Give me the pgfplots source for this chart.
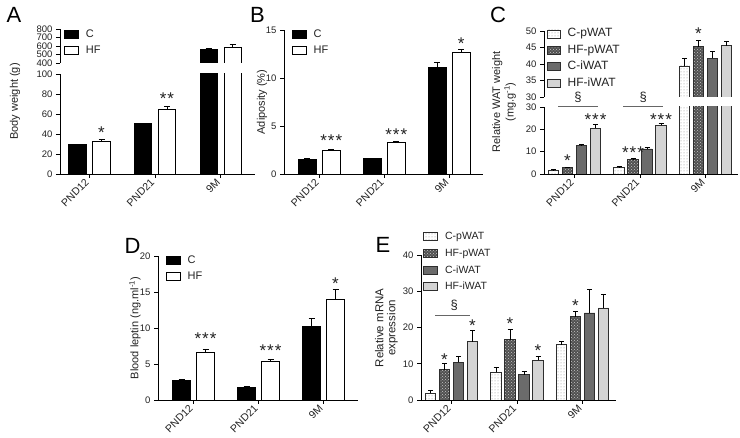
\documentclass[border=0pt]{standalone}
\usepackage{pgfplots}
\pgfplotsset{compat=1.18}
\usepackage{fontspec}
\setmainfont{Liberation Sans}
\usetikzlibrary{patterns}

\definecolor{txt}{HTML}{222222}
\definecolor{edgeg}{HTML}{2E2E2E}
\definecolor{hfp}{HTML}{505050}
\definecolor{ciw}{HTML}{6B6B6B}
\definecolor{hfiw}{HTML}{D4D4D4}

\newcommand{\tickfont}{\fontsize{9.5}{10}\selectfont}
\newcommand{\xtickfont}{\fontsize{10.5}{11}\selectfont}
\newcommand{\labfont}{\fontsize{11}{13.5}\selectfont}
\newcommand{\legfont}{\fontsize{11}{12}\selectfont}

\tikzset{
  st/.style={font=\fontsize{17}{17}\selectfont, text=txt, inner sep=0pt, anchor=base, yshift=-9.7pt},
  sg/.style={font=\fontsize{13}{13}\selectfont, text=txt, inner sep=0pt, anchor=base, yshift=-3.4pt},
  sgl/.style={line width=0.8pt, black!60},
}
\pgfplotsset{
  gp/.style={
    scale only axis, anchor=south west, clip mode=individual,
    axis line style={line width=0.9pt, black},
    every tick/.style={line width=0.9pt, black},
    tick align=outside, major tick length=4pt,
    scaled y ticks=false,
    /pgf/number format/assume math mode=true,
    ticklabel style={font=\tickfont, text=txt},
    legend cell align=left,
    legend style={draw=none, fill=none, anchor=north west, inner sep=0pt, outer sep=0pt,
      font=\legfont, text=txt, row sep=2pt, column sep=7pt,
      nodes={inner xsep=0pt, inner ysep=2pt, text height=8pt, text depth=2pt}},
    legend image code/.code={\draw[##1] (0pt,-4pt) rectangle (14pt,4pt);},
    error bars/y dir=plus, error bars/y explicit,
    error bars/error mark=|,
    error bars/error bar style={line width=1pt, black},
    error bars/error mark options={line width=1pt, black, mark size=3pt},
  },
  gplow/.style={gp, axis x line*=bottom, axis y line*=left,
    xticklabels={PND12,PND21,9M},
    xticklabel style={rotate=45, anchor=east, font=\xtickfont}},
  gpup/.style={gp, axis y line*=left, axis x line=none},
  bc/.style={ybar, bar shift=0pt, bar width=17.5pt, fill=black, draw=black, line width=0.9pt},
  bh/.style={ybar, bar shift=0pt, bar width=17.5pt, fill=white, draw=black, line width=0.9pt},
  qq/.style={ybar, bar shift=0pt, bar width=10.5pt, draw=edgeg, line width=0.8pt,
    error bars/error mark options={line width=1pt, black, mark size=2.5pt}},
  q1/.style={qq, fill=white, postaction={pattern=dots, pattern color=black!45}},
  q2/.style={qq, fill=hfp, postaction={pattern=crosshatch dots, pattern color=black!22}},
  q3/.style={qq, fill=ciw},
  q4/.style={qq, fill=hfiw},
}
\newcommand{\three}{*\kern1pt*\kern1pt*}
\newcommand{\two}{*\kern1pt*}

\begin{document}
\begin{tikzpicture}
\path[use as bounding box] (0pt,0pt) rectangle (740pt,438pt);

% ---------------- A ----------------
\begin{axis}[gplow, at={(60pt,264pt)}, width=195pt, height=100pt,
  xmin=0, xmax=195, xtick={29.5,95,160.7}, ymin=0, ymax=100, ytick={0,20,40,60,80,100}]
\addplot[bc] coordinates {(17.5,29.5) +- (0,0.4) (83,50.4) +- (0,0.5)};
\addplot[bh] coordinates {(41.5,32.3) +- (0,2.2) (107,64.5) +- (0,2.8)};
\addplot[bc, error bars/y dir=none] coordinates {(148.7,565)};
\addplot[bh, error bars/y dir=none] coordinates {(172.7,580)};
\node[st] at (axis cs:41.5,44.7) {*};
\node[st] at (axis cs:107,79) {\two};
\end{axis}
\begin{axis}[gpup, at={(60pt,375pt)}, width=195pt, height=34pt,
  xmin=0, xmax=195, ymin=400, ymax=800, ytick={400,500,600,700,800},
  legend style={at={(axis description cs:0.0205,1.044)}}]
\addplot[bc] coordinates {(148.7,565) +- (0,8)};
\addplot[bh] coordinates {(172.7,580) +- (0,42)};
\legend{C,HF}
\end{axis}

% ---------------- B ----------------
\begin{axis}[gplow, at={(284pt,264pt)}, width=199pt, height=144pt,
  xmin=0, xmax=199, xtick={35.3,100.3,165.3}, ymin=0, ymax=15, ytick={0,5,10,15},
  legend style={at={(axis description cs:0.0387,1.019)}}]
\addplot[bc] coordinates {(23.3,1.53) +- (0,0.05) (88.3,1.6) +- (0,0.05) (153.3,11.1) +- (0,0.55)};
\addplot[bh] coordinates {(47.3,2.42) +- (0,0.15) (112.3,3.28) +- (0,0.12) (177.3,12.62) +- (0,0.35)};
\legend{C,HF}
\node[st] at (axis cs:47.3,3.89) {\three};
\node[st] at (axis cs:112.3,4.51) {\three};
\node[st] at (axis cs:177.3,13.96) {*};
\end{axis}

% ---------------- C ----------------
\begin{axis}[gplow, at={(544pt,264pt)}, width=194pt, height=67pt,
  xmin=0, xmax=194, xtick={30.5,96,161.5}, ymin=0, ymax=30, ytick={0,10,20,30}]
\addplot[q1] coordinates {(9.5,1.8) +- (0,0.2) (75,2.9) +- (0,0.3)};
\addplot[q2] coordinates {(23.5,2.9) +- (0,0.2) (89,6.4) +- (0,0.4)};
\addplot[q3] coordinates {(37.5,12.7) +- (0,0.5) (103,11.2) +- (0,0.5)};
\addplot[q4] coordinates {(51.5,20.4) +- (0,1.6) (117,21.8) +- (0,0.6)};
\addplot[q1, error bars/y dir=none] coordinates {(140.5,39.4)};
\addplot[q2, error bars/y dir=none] coordinates {(154.5,45.3)};
\addplot[q3, error bars/y dir=none] coordinates {(168.5,41.7)};
\addplot[q4, error bars/y dir=none] coordinates {(182.5,45.6)};
\node[st] at (axis cs:23.5,7.9) {*};
\node[st] at (axis cs:51.5,26) {\three};
\node[st] at (axis cs:89,11.2) {\three};
\node[st] at (axis cs:117,26) {\three};
\draw[sgl] (axis cs:14,30.4) -- (axis cs:54,30.4);
\draw[sgl] (axis cs:79,30.4) -- (axis cs:119,30.4);
\node[sg] at (axis cs:34,34) {§};
\node[sg] at (axis cs:99.3,34) {§};
\end{axis}
\begin{axis}[gpup, at={(544pt,341pt)}, width=194pt, height=66pt,
  xmin=0, xmax=194, ymin=30, ymax=50, ytick={30,35,40,45,50},
  legend style={at={(axis description cs:0.015,1.061)}, row sep=2.4pt, font=\fontsize{12}{13}\selectfont},
  legend image code/.code={\draw[#1] (0pt,-4pt) rectangle (13pt,4pt);}]
\addplot[q1] coordinates {(140.5,39.4) +- (0,2.2)};
\addplot[q2] coordinates {(154.5,45.3) +- (0,1.9)};
\addplot[q3] coordinates {(168.5,41.7) +- (0,2.2)};
\addplot[q4] coordinates {(182.5,45.6) +- (0,1.2)};
\legend{C-pWAT,HF-pWAT,C-iWAT,HF-iWAT}
\node[st] at (axis cs:154.5,50.3) {*};
\end{axis}

% ---------------- D ----------------
\begin{axis}[gplow, at={(158pt,38pt)}, width=200pt, height=144pt,
  xmin=0, xmax=200, xtick={35.5,100.5,165.5}, ymin=0, ymax=20, ytick={0,5,10,15,20},
  legend style={at={(axis description cs:0.0385,1.016)}}]
\addplot[bc] coordinates {(23.5,2.7) +- (0,0.15) (88.5,1.75) +- (0,0.1) (153.5,10.15) +- (0,1.15)};
\addplot[bh] coordinates {(47.5,6.55) +- (0,0.5) (112.5,5.35) +- (0,0.3) (177.5,14.0) +- (0,1.35)};
\legend{C,HF}
\node[st] at (axis cs:47.5,9.03) {\three};
\node[st] at (axis cs:112.5,7.4) {\three};
\node[st] at (axis cs:177.5,16.76) {*};
\end{axis}

% ---------------- E ----------------
\begin{axis}[gplow, at={(421pt,38pt)}, width=195pt, height=145pt,
  xmin=0, xmax=195, xtick={30.5,96,161.5}, ymin=0, ymax=40, ytick={0,10,20,30,40},
  legend style={at={(axis description cs:0.012,1.174)}, row sep=2.7pt, font=\fontsize{10.5}{12}\selectfont}]
\addplot[q1] coordinates {(9.5,1.8) +- (0,0.8) (75,7.7) +- (0,1.3) (140.5,15.2) +- (0,1.0)};
\addplot[q2] coordinates {(23.5,8.4) +- (0,1.6) (89,16.6) +- (0,2.8) (154.5,23.0) +- (0,1.5)};
\addplot[q3] coordinates {(37.5,10.4) +- (0,1.5) (103,7.0) +- (0,0.8) (168.5,24.0) +- (0,6.6)};
\addplot[q4] coordinates {(51.5,16.1) +- (0,3.2) (117,10.9) +- (0,1.1) (182.5,25.4) +- (0,3.6)};
\legend{C-pWAT,HF-pWAT,C-iWAT,HF-iWAT}
\node[st] at (axis cs:23.5,12.1) {*};
\node[st] at (axis cs:51.5,21.6) {*};
\node[st] at (axis cs:89,22.1) {*};
\node[st] at (axis cs:117,14.7) {*};
\node[st] at (axis cs:154.5,27.1) {*};
\draw[sgl] (axis cs:14,23.4) -- (axis cs:49,23.4);
\node[sg] at (axis cs:33.3,25.9) {§};
\end{axis}

% ---------------- labels ----------------
\node[rotate=90, font=\labfont, text=txt] at (15pt,336.5pt) {Body weight (g)};
\node[rotate=90, font=\labfont, text=txt] at (262pt,336pt) {Adiposity (\%)};
\node[rotate=90, font=\labfont, text=txt, align=center] at (504pt,336pt) {Relative WAT weight\\(mg.g\textsuperscript{-1})};
\node[rotate=90, font=\labfont, text=txt] at (135pt,110pt) {Blood leptin (ng.ml\textsuperscript{-1})};
\node[rotate=90, font=\fontsize{11.5}{12}\selectfont, text=txt, align=center] at (386.5pt,110pt) {Relative mRNA\\expression};

\node[anchor=base west, font=\fontsize{22}{22}\selectfont, inner sep=0pt] at (6.5pt,415pt) {A};
\node[anchor=base west, font=\fontsize{22}{22}\selectfont, inner sep=0pt] at (250pt,415pt) {B};
\node[anchor=base west, font=\fontsize{22}{22}\selectfont, inner sep=0pt] at (490pt,415pt) {C};
\node[anchor=base west, font=\fontsize{22}{22}\selectfont, inner sep=0pt] at (124.5pt,184.7pt) {D};
\node[anchor=base west, font=\fontsize{22}{22}\selectfont, inner sep=0pt] at (375.5pt,185pt) {E};
\end{tikzpicture}
\end{document}
